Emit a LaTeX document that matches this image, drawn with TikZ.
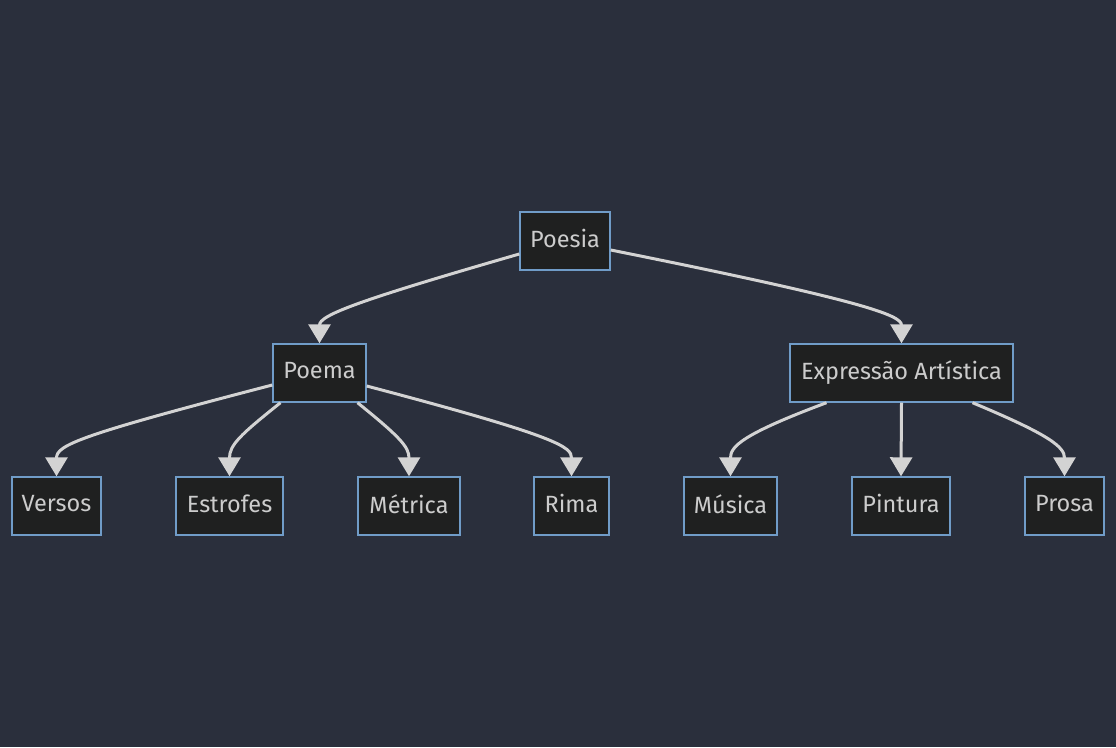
\documentclass[tikz,border=0pt]{standalone}
\usepackage{fontspec}
\setmainfont{Fira Sans}
\usetikzlibrary{arrows.meta}
\definecolor{bgc}{RGB}{42,47,60}
\definecolor{nodefill}{HTML}{1F2020}
\definecolor{nodeborder}{RGB}{112,156,200}
\definecolor{txt}{HTML}{CCCCCC}
\definecolor{edgec}{HTML}{D3D3D3}
\newcommand{\lbl}[1]{\raisebox{4.5pt}{#1}}
\tikzset{
  box/.style={draw=nodeborder, fill=nodefill, line width=1.4pt, text=txt,
    minimum height=58pt, minimum width=#1, inner sep=0pt,
    font=\fontsize{23.5}{26}\selectfont},
  edge/.style={draw=edgec, line width=3pt,
    -{Triangle[width=22pt,length=19pt]}},
}
\begin{document}
\begin{tikzpicture}[x=1pt,y=-1pt]
\fill[bgc] (0,0) rectangle (1116,747);
\useasboundingbox (0,0) rectangle (1116,747);

\node[box=90pt]  (poesia) at (565,241) {\lbl{Poesia}};
\node[box=93pt]  (poema)  at (319.5,373) {\lbl{Poema}};
\node[box=223pt] (expr)   at (901.5,373) {\lbl{Expressão Artística}};
\node[box=89pt]  (versos) at (56.5,506) {\lbl{Versos}};
\node[box=107pt] (estrofes) at (229.5,506) {\lbl{Estrofes}};
\node[box=102pt] (metrica) at (409,506) {\lbl{Métrica}};
\node[box=75pt]  (rima)   at (571.5,506) {\lbl{Rima}};
\node[box=93pt]  (musica) at (730.5,506) {\lbl{Música}};
\node[box=98pt]  (pintura) at (901,506) {\lbl{Pintura}};
\node[box=79pt]  (prosa)  at (1064.5,506) {\lbl{Prosa}};

\draw[edge] ([yshift=-13pt]poesia.west) .. controls (360,300) and (319.5,315) .. (poema.north);
\draw[edge] ([yshift=-9pt]poesia.east) .. controls (860,300) and (901.5,315) .. (expr.north);
\draw[edge] ([yshift=-12pt]poema.west) .. controls (80,435) and (56.5,445) .. (versos.north);
\draw[edge] ([xshift=-39pt]poema.south) .. controls (240,435) and (229.5,445) .. (estrofes.north);
\draw[edge] ([xshift=38pt]poema.south) .. controls (400,437) and (409,447) .. (metrica.north);
\draw[edge] ([yshift=-13pt]poema.east) .. controls (560,437) and (571.5,447) .. (rima.north);
\draw[edge] ([xshift=-75pt]expr.south) .. controls (740,435) and (730.5,447) .. (musica.north);
\draw[edge] (expr.south) -- (pintura.north);
\draw[edge] ([xshift=71pt]expr.south) .. controls (1050,435) and (1064.5,447) .. (prosa.north);
\end{tikzpicture}
\end{document}
